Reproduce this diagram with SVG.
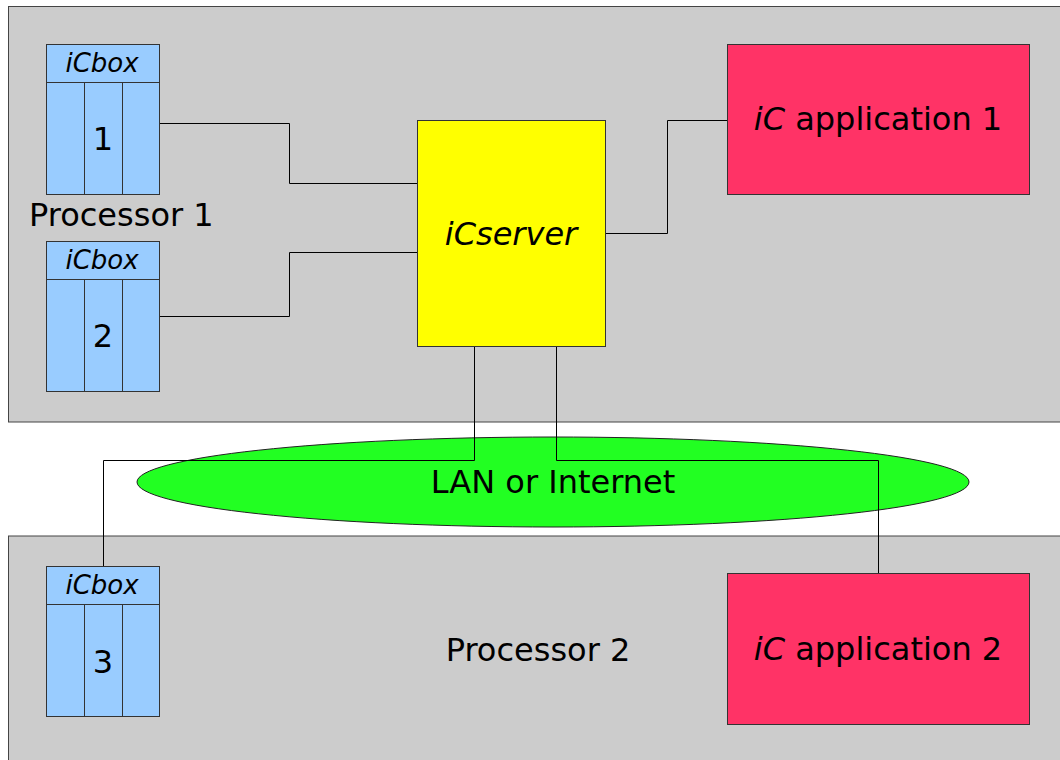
<svg xmlns="http://www.w3.org/2000/svg" width="1060" height="760" viewBox="0 0 1060 760">
<style>
text{font-family:"DejaVu Sans","Liberation Sans",sans-serif;fill:#000}
.panel{fill:#cccccc;stroke:#444;stroke-width:1}
.box{fill:#99ccff;stroke:#333;stroke-width:1}
.hdr{font-size:26px;font-style:italic;text-anchor:middle}
.big{font-size:32px;text-anchor:middle}
.it{font-style:italic}
.app{fill:#ff3366;stroke:#333;stroke-width:1}
.conn{fill:none;stroke:#000;stroke-width:1}
</style>
<rect class="panel" x="8.5" y="6.5" width="1060" height="415.5"/>
<rect class="panel" x="8.5" y="536" width="1060" height="240"/>
<g id="lan">
<ellipse cx="553" cy="482" rx="416" ry="45" fill="#22ff22" stroke="#222" stroke-width="1"/>
<text class="big" x="553" y="493">LAN or Internet</text>
</g>
<text id="processor1" x="29" y="226" font-size="32">Processor 1</text>
<text id="processor2" class="big" x="538" y="661">Processor 2</text>
<g id="icbox1">
<rect class="box" x="46.5" y="44.5" width="113" height="150"/>
<line class="box" x1="46.5" y1="82.5" x2="159.5" y2="82.5"/>
<line class="box" x1="84.5" y1="82.5" x2="84.5" y2="194.5"/>
<line class="box" x1="122.5" y1="82.5" x2="122.5" y2="194.5"/>
<text class="hdr" x="102" y="72">iCbox</text>
<text class="big" x="103" y="150">1</text>
</g>
<g id="icbox2">
<rect class="box" x="46.5" y="241.5" width="113" height="150"/>
<line class="box" x1="46.5" y1="279.5" x2="159.5" y2="279.5"/>
<line class="box" x1="84.5" y1="279.5" x2="84.5" y2="391.5"/>
<line class="box" x1="122.5" y1="279.5" x2="122.5" y2="391.5"/>
<text class="hdr" x="102" y="269">iCbox</text>
<text class="big" x="103" y="347">2</text>
</g>
<g id="icbox3">
<rect class="box" x="46.5" y="566.5" width="113" height="150"/>
<line class="box" x1="46.5" y1="604.5" x2="159.5" y2="604.5"/>
<line class="box" x1="84.5" y1="604.5" x2="84.5" y2="716.5"/>
<line class="box" x1="122.5" y1="604.5" x2="122.5" y2="716.5"/>
<text class="hdr" x="102" y="594">iCbox</text>
<text class="big" x="103" y="673">3</text>
</g>
<g id="iCserver">
<rect x="417.5" y="120.5" width="188" height="226" fill="#ffff00" stroke="#333" stroke-width="1"/>
<text class="big it" x="511" y="245">iCserver</text>
</g>
<g id="app1">
<rect class="app" x="727.5" y="44.5" width="302" height="150"/>
<text class="big" x="878" y="130"><tspan class="it">iC</tspan> application 1</text>
</g>
<g id="app2">
<rect class="app" x="727.5" y="573.5" width="302" height="151"/>
<text class="big" x="878" y="660"><tspan class="it">iC</tspan> application 2</text>
</g>
<g id="connectors">
<polyline class="conn" points="160,123.5 289.5,123.5 289.5,183.5 417,183.5"/>
<polyline class="conn" points="160,316.5 289.5,316.5 289.5,252.5 417,252.5"/>
<polyline class="conn" points="606,233.5 667.5,233.5 667.5,120.5 727,120.5"/>
<polyline class="conn" points="474.5,347 474.5,460.5 103.5,460.5 103.5,566"/>
<polyline class="conn" points="556.5,347 556.5,460.5 878.5,460.5 878.5,573"/>
</g>
</svg>
